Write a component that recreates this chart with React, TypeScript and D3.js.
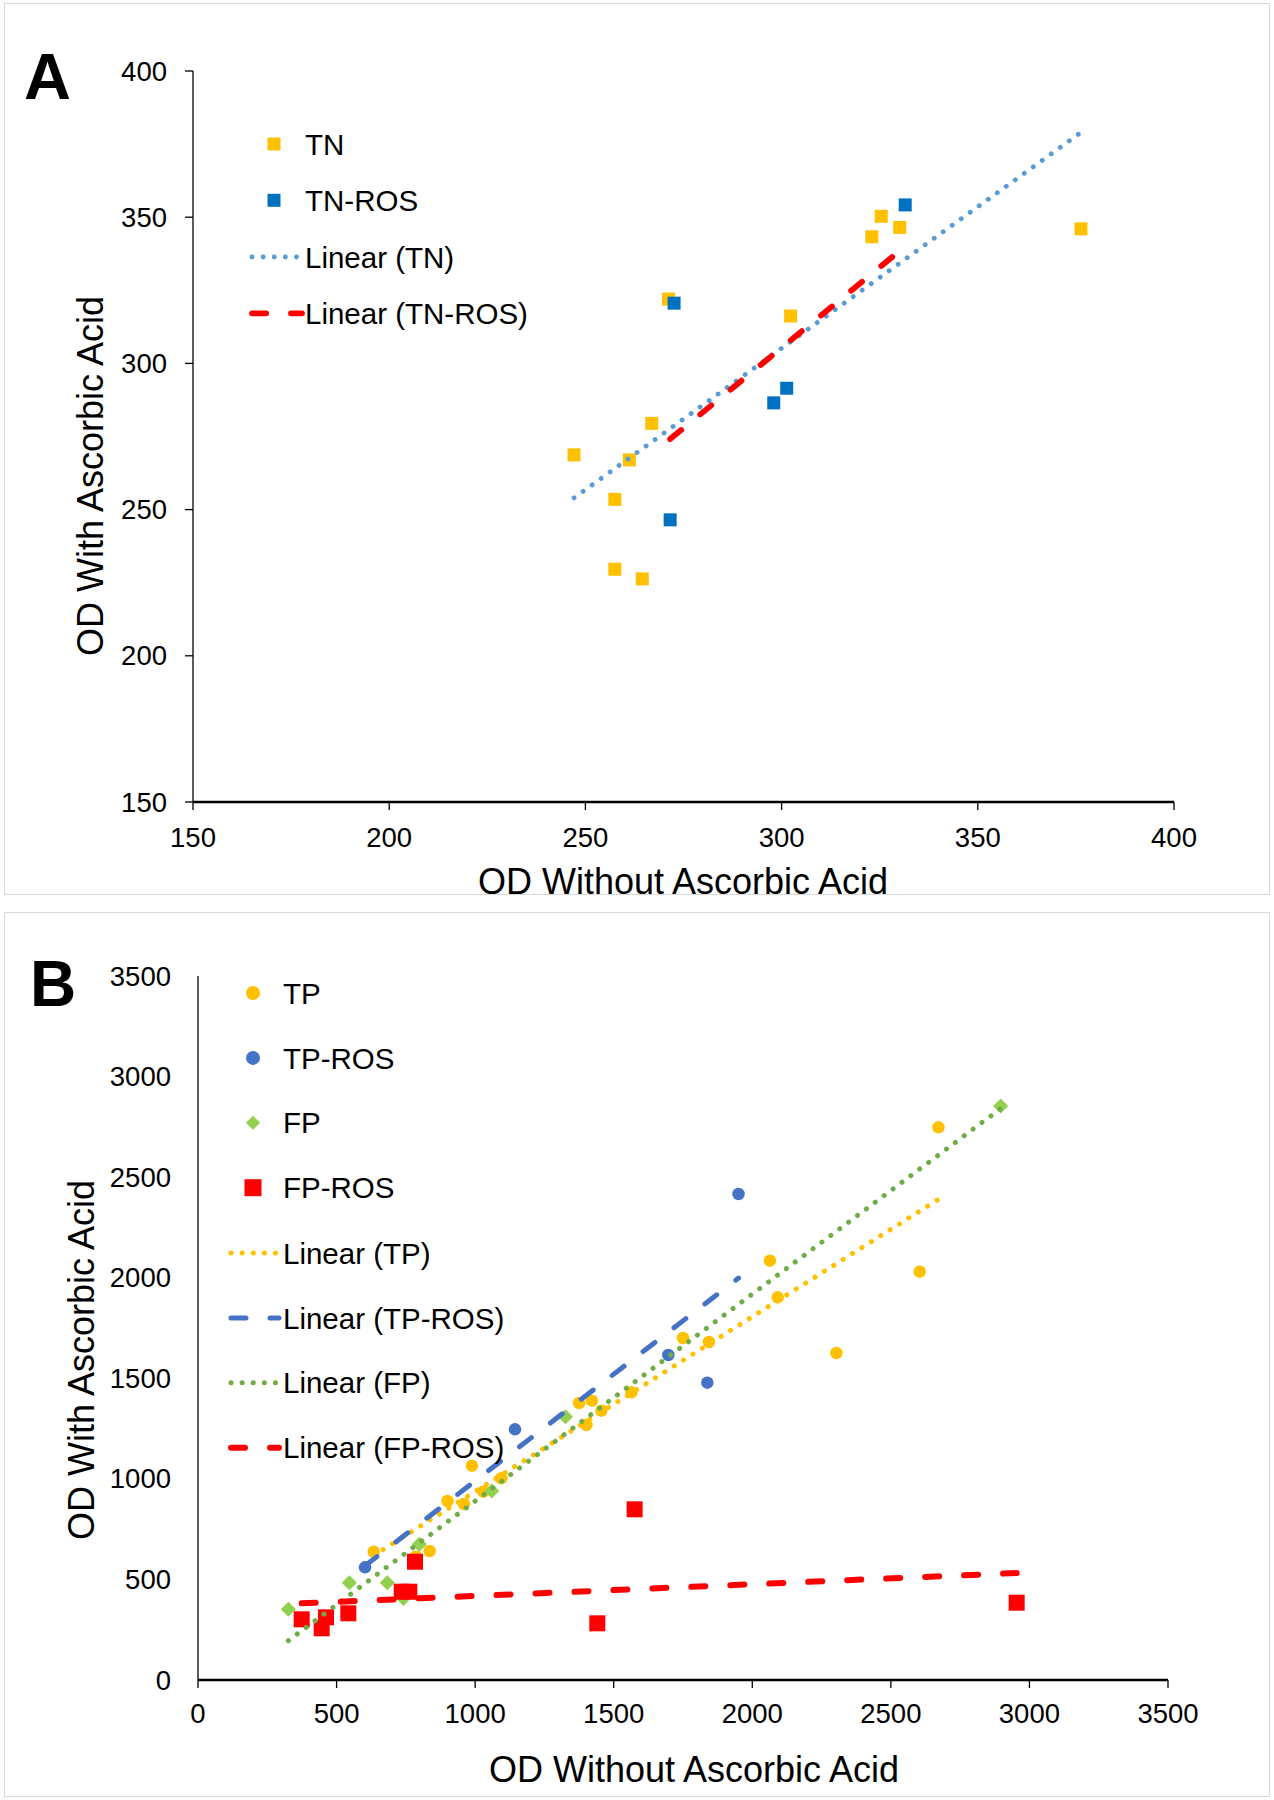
import React from 'react';
import * as d3 from 'd3';

// Panel A: total nitrogen
const tnX = [247.1, 257.5, 261.2, 266.9, 257.5, 264.5, 271.2, 302.3, 323.0, 325.4, 330.1, 376.3];
const tnY = [268.7, 253.5, 267.0, 279.5, 229.6, 226.3, 322.0, 316.2, 343.3, 350.3, 346.5, 346.0];
const tnRosX = [272.6, 331.5, 301.3, 298.0, 271.6];
const tnRosY = [320.6, 354.2, 291.5, 286.5, 246.5];
const ticksA = [150, 200, 250, 300, 350, 400];

// Panel B: total / free phenolics
const tpX = [2671.6, 2063.6, 2604, 2091.8, 2303.6, 1750, 1843.5, 1564.2, 1375.1, 1421.3, 1455.6, 1401.5, 988.3, 1094.4, 1029.4, 900.3, 959.8, 634, 835.7, 785.5];
const tpY = [2747.8, 2084.6, 2030, 1902.6, 1625.7, 1700.3, 1680.4, 1430.3, 1377.2, 1388.6, 1338.9, 1267.8, 1065.4, 1002.8, 936.2, 889.9, 875, 637.9, 641.3, 613];
const tpRosX = [1950.3, 1837.7, 1697, 1143.8, 602.6];
const tpRosY = [2416.2, 1478.1, 1615.8, 1246.4, 560.3];
const fpX = [2896.3, 1326, 1059.7, 798.6, 546, 683, 325.9, 741];
const fpY = [2853.7, 1309, 939.6, 674.6, 483.7, 483.7, 351.5, 406];
const fpRosX = [1575.4, 1440.8, 2954, 783, 735, 762.4, 374.2, 446.3, 461.9, 542.4];
const fpRosY = [848.6, 281.9, 384.3, 588, 439, 439, 301.8, 257, 311.7, 331.6];
const ticksB = [0, 500, 1000, 1500, 2000, 2500, 3000, 3500];

const FONT = 'Liberation Sans, Arial, sans-serif';

// least squares trend line between min and max x
const fit = (xs: number[], ys: number[]) => {
  const mx = d3.mean(xs) as number;
  const my = d3.mean(ys) as number;
  let sxy = 0;
  let sxx = 0;
  xs.forEach((x, i) => {
    sxy += (x - mx) * (ys[i] - my);
    sxx += (x - mx) * (x - mx);
  });
  const m = sxy / sxx;
  const b = my - m * mx;
  const [x0, x1] = d3.extent(xs) as [number, number];
  return [[x0, m * x0 + b], [x1, m * x1 + b]] as [number, number][];
};

const Marker = ({ shape, x, y, color, size }: any) => {
  if (shape === 'circle') return <circle cx={x} cy={y} r={size / 2} fill={color} />;
  if (shape === 'diamond')
    return <rect x={-size / 2.8} y={-size / 2.8} width={size / 1.4} height={size / 1.4} fill={color}
      transform={`translate(${x},${y}) rotate(45)`} />;
  return <rect x={x - size / 2} y={y - size / 2} width={size} height={size} fill={color} />;
};

const lineStyle = (kind: string, color: string, w: number) =>
  kind === 'dot'
    ? { stroke: color, strokeWidth: w, strokeDasharray: `0.1 ${11}`, strokeLinecap: 'round' as const }
    : { stroke: color, strokeWidth: w, strokeDasharray: `${20 - w} ${19 + w}`, strokeLinecap: 'round' as const };

export default function App() {
  const xA = d3.scaleLinear().domain([150, 400]).range([193, 1174]);
  const yA = d3.scaleLinear().domain([150, 400]).range([802, 71]);
  const xB = d3.scaleLinear().domain([0, 3500]).range([198, 1168]);
  const yB = d3.scaleLinear().domain([0, 3500]).range([1680, 976]);

  const line = (sx: any, sy: any) => d3.line<[number, number]>().x(d => sx(d[0])).y(d => sy(d[1]));
  const lineA = line(xA, yA);
  const lineB = line(xB, yB);

  const seriesA = [
    { name: 'TN', xs: tnX, ys: tnY, color: '#FFC000', shape: 'square', size: 13 },
    { name: 'TN-ROS', xs: tnRosX, ys: tnRosY, color: '#0070C0', shape: 'square', size: 13 },
  ];
  const trendsA = [
    { name: 'Linear (TN)', xs: tnX, ys: tnY, style: lineStyle('dot', '#5B9BD5', 4.8) },
    { name: 'Linear (TN-ROS)', xs: tnRosX, ys: tnRosY, style: lineStyle('dash', '#FF0000', 5.8) },
  ];
  const seriesB = [
    { name: 'TP', xs: tpX, ys: tpY, color: '#FFC000', shape: 'circle', size: 12.5 },
    { name: 'TP-ROS', xs: tpRosX, ys: tpRosY, color: '#4472C4', shape: 'circle', size: 12.5 },
    { name: 'FP', xs: fpX, ys: fpY, color: '#92D050', shape: 'diamond', size: 15 },
    { name: 'FP-ROS', xs: fpRosX, ys: fpRosY, color: '#FF0000', shape: 'square', size: 16 },
  ];
  const trendsB = [
    { name: 'Linear (TP)', xs: tpX, ys: tpY, style: lineStyle('dot', '#FFC000', 5) },
    { name: 'Linear (TP-ROS)', xs: tpRosX, ys: tpRosY, style: lineStyle('dash', '#4472C4', 5) },
    { name: 'Linear (FP)', xs: fpX, ys: fpY, style: lineStyle('dot', '#70AD47', 5) },
    { name: 'Linear (FP-ROS)', xs: fpRosX, ys: fpRosY, style: lineStyle('dash', '#FF0000', 6) },
  ];

  return (
    <svg width={1274} height={1800} style={{ position: 'absolute', left: 0, top: 0, background: '#fff' }}
      fontFamily={FONT}>
      <rect x={0} y={0} width={1274} height={1800} fill="#fff" />
      <rect x={4.5} y={3.5} width={1265} height={891} fill="none" stroke="#d9d9d9" />
      <rect x={4.5} y={912.5} width={1265} height={884} fill="none" stroke="#d9d9d9" />

      {/* ---------- A ---------- */}
      <text x={24} y={99} fontSize={65} fontWeight="bold">A</text>
      <line x1={193} x2={193} y1={yA(400)} y2={yA(150)} stroke="#000" strokeWidth={1.3} />
      {ticksA.map(t => (
        <g key={'ya' + t}>
          <line x1={185} x2={193} y1={yA(t)} y2={yA(t)} stroke="#000" strokeWidth={1.3} />
          <text x={167} y={yA(t)} dy="0.35em" textAnchor="end" fontSize={27.5}>{t}</text>
        </g>
      ))}
      <line x1={xA(150)} x2={xA(400)} y1={802} y2={802} stroke="#000" strokeWidth={2.6} />
      {ticksA.map(t => (
        <g key={'xa' + t}>
          <line x1={xA(t)} x2={xA(t)} y1={802} y2={810} stroke="#000" strokeWidth={1.3} />
          <text x={xA(t)} y={847} textAnchor="middle" fontSize={27.5}>{t}</text>
        </g>
      ))}
      <text x={683} y={894} textAnchor="middle" fontSize={36}>OD Without Ascorbic Acid</text>
      <text transform="translate(103,476) rotate(-90)" textAnchor="middle" fontSize={36}>OD With Ascorbic Acid</text>

      {seriesA.map(s => (
        <g key={s.name}>
          {s.xs.map((x, i) => <Marker key={i} shape={s.shape} x={xA(x)} y={yA(s.ys[i])} color={s.color} size={s.size} />)}
        </g>
      ))}
      {trendsA.map(t => <path key={t.name} d={lineA(fit(t.xs, t.ys)) as string} fill="none" {...t.style} />)}

      {seriesA.map((s, i) => (
        <g key={'la' + s.name}>
          <Marker shape={s.shape} x={274} y={144 + i * 56.3} color={s.color} size={13} />
          <text x={305} y={144 + i * 56.3} dy="0.36em" fontSize={29.5}>{s.name}</text>
        </g>
      ))}
      {trendsA.map((t, i) => (
        <g key={'lta' + t.name}>
          <line x1={252} x2={302} y1={257 + i * 56.3} y2={257 + i * 56.3} {...t.style} />
          <text x={305} y={257 + i * 56.3} dy="0.36em" fontSize={29.5}>{t.name}</text>
        </g>
      ))}

      {/* ---------- B ---------- */}
      <text x={30} y={1006} fontSize={64} fontWeight="bold">B</text>
      <line x1={198} x2={198} y1={yB(3500)} y2={yB(0)} stroke="#000" strokeWidth={1.3} />
      {ticksB.map(t => (
        <text key={'yb' + t} x={171} y={yB(t)} dy="0.35em" textAnchor="end" fontSize={27.5}>{t}</text>
      ))}
      <line x1={xB(0)} x2={xB(3500)} y1={1680} y2={1680} stroke="#000" strokeWidth={2.6} />
      {ticksB.map(t => (
        <g key={'xb' + t}>
          <line x1={xB(t)} x2={xB(t)} y1={1680} y2={1688} stroke="#000" strokeWidth={1.3} />
          <text x={xB(t)} y={1723} textAnchor="middle" fontSize={27.5}>{t}</text>
        </g>
      ))}
      <text x={694} y={1782} textAnchor="middle" fontSize={36}>OD Without Ascorbic Acid</text>
      <text transform="translate(94,1360) rotate(-90)" textAnchor="middle" fontSize={36}>OD With Ascorbic Acid</text>

      {seriesB.map(s => (
        <g key={s.name}>
          {s.xs.map((x, i) => <Marker key={i} shape={s.shape} x={xB(x)} y={yB(s.ys[i])} color={s.color} size={s.size} />)}
        </g>
      ))}
      {trendsB.map(t => <path key={t.name} d={lineB(fit(t.xs, t.ys)) as string} fill="none" {...t.style} />)}

      {seriesB.map((s, i) => (
        <g key={'lb' + s.name}>
          <Marker shape={s.shape} x={253} y={993 + i * 64.9} color={s.color} size={s.shape === 'square' ? 17 : 14} />
          <text x={283} y={993 + i * 64.9} dy="0.36em" fontSize={29.5}>{s.name}</text>
        </g>
      ))}
      {trendsB.map((t, i) => (
        <g key={'ltb' + t.name}>
          <line x1={231} x2={279} y1={1253 + i * 64.9} y2={1253 + i * 64.9} {...t.style} />
          <text x={283} y={1253 + i * 64.9} dy="0.36em" fontSize={29.5}>{t.name}</text>
        </g>
      ))}
    </svg>
  );
}
